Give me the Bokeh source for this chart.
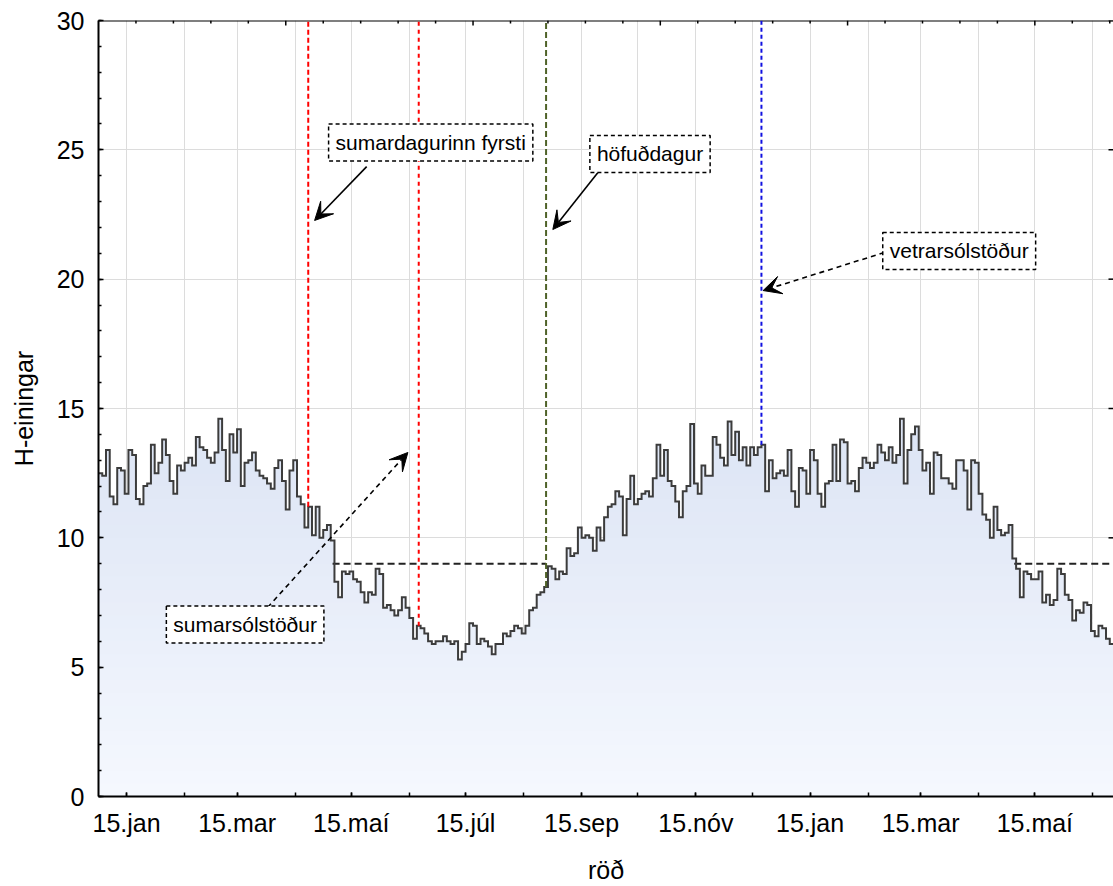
import numpy as np
from bokeh.plotting import figure
from bokeh.models import FixedTicker, Range1d, Label, Arrow, VeeHead
from bokeh.embed import file_html
from bokeh.resources import INLINE

# ---------------- data ----------------
day_first = 1
day_step = 2
h_values = [
    12.5, 12.4, 13.4, 11.6, 11.3, 12.7, 12.6, 11.7, 13.4, 13.2,
    11.5, 11.3, 12.0, 12.1, 13.6, 12.5, 12.9, 13.8, 13.2, 12.2,
    11.7, 12.8, 12.6, 12.9, 13.1, 12.8, 13.9, 13.5, 13.4, 13.1,
    12.9, 13.3, 14.6, 13.4, 12.2, 14.0, 13.3, 14.2, 12.0, 12.9,
    13.0, 13.3, 12.6, 12.4, 12.3, 12.1, 11.9, 12.7, 13.0, 12.2,
    11.1, 12.6, 13.0, 11.6, 11.3, 10.4, 11.2, 10.1, 11.2, 10.0,
    10.3, 10.5, 9.9, 8.3, 7.7, 8.7, 8.6, 8.7, 8.4, 8.3,
    7.9, 7.5, 7.9, 7.8, 8.8, 8.6, 7.3, 7.4, 7.2, 7.0,
    7.2, 7.7, 7.3, 6.9, 6.1, 6.6, 6.5, 6.3, 6.0, 5.9,
    6.0, 6.0, 6.2, 6.0, 5.9, 6.0, 5.3, 5.6, 5.9, 6.7,
    6.6, 5.9, 6.1, 6.0, 5.8, 5.5, 5.9, 5.9, 6.3, 6.2,
    6.4, 6.6, 6.5, 6.3, 6.6, 7.2, 7.3, 7.8, 7.9, 8.1,
    8.9, 8.8, 8.4, 8.7, 8.6, 9.6, 9.3, 9.4, 10.4, 10.0,
    10.1, 10.0, 9.5, 10.4, 9.9, 10.8, 11.2, 11.3, 11.8, 11.6,
    10.1, 11.5, 12.4, 11.3, 11.5, 11.7, 11.8, 11.6, 12.3, 13.6,
    12.4, 13.4, 12.2, 12.0, 11.4, 10.8, 11.8, 12.0, 14.4, 12.1,
    11.7, 12.8, 12.4, 12.4, 13.9, 13.6, 13.1, 12.8, 14.5, 13.2,
    14.1, 13.0, 13.5, 12.8, 13.5, 13.2, 13.5, 13.6, 11.8, 13.0,
    12.3, 12.5, 12.6, 12.4, 13.4, 11.8, 11.2, 12.7, 12.6, 11.7,
    13.4, 13.0, 11.7, 11.2, 12.1, 12.2, 13.6, 12.2, 13.8, 13.7,
    12.1, 12.2, 11.8, 12.7, 13.1, 12.9, 12.7, 12.9, 13.6, 13.3,
    13.0, 13.5, 12.9, 13.2, 14.6, 12.1, 13.4, 14.0, 14.3, 13.4,
    12.6, 12.9, 11.7, 13.3, 13.2, 12.3, 12.3, 12.1, 11.9, 13.0,
    13.0, 12.6, 11.1, 13.0, 12.9, 11.7, 10.9, 10.7, 10.0, 11.2,
    10.3, 10.1, 10.2, 10.5, 9.2, 8.8, 7.7, 8.7, 8.6, 8.4,
    8.4, 8.7, 7.5, 7.8, 7.4, 7.6, 8.8, 8.6, 7.8, 7.6,
    6.8, 7.2, 7.1, 7.5, 7.4, 6.4, 6.2, 6.6, 6.5, 6.1,
    5.9,
]

# x axis tick labels (day index of the 15th of every other month)
label_days = [15, 74, 135, 196, 258, 319, 380, 439, 500]
label_texts = ["15.jan", "15.mar", "15.maí", "15.júl", "15.sep",
               "15.nóv", "15.jan", "15.mar", "15.maí"]
month_days = [15, 46, 74, 105, 135, 166, 196, 227, 258, 288, 319, 349,
              380, 411, 439, 470, 500, 531]
index_major = [100, 200, 300, 400, 500]
index_minor = [20, 40, 60, 80, 120, 140, 160, 180, 220, 240, 260, 280, 320, 340,
               360, 380, 420, 440, 460, 480, 520, 540]
y_major = [0, 5, 10, 15, 20, 25, 30]
y_minor = list(range(0, 31))

# marker days: sumardagurinn fyrsti, sumarsólstöður, höfuðdagur, vetrarsólstöður
marker_days = [112, 171, 239, 354]
marker_colors = ["#ff0000", "#ff0000", "#4f6228", "#1010e0"]
marker_dashes = ["5 3", "4 4", "6 3", "4 3"]

threshold = 9.0
threshold_spans = [(125, 239), (489, 542)]

notes = ["sumardagurinn fyrsti", "höfuðdagur", "vetrarsólstöður", "sumarsólstöður"]
note_x = [177.4, 294.5, 459.6, 78.3]
note_y = [25.28, 24.84, 21.09, 6.65]
arrow_x0 = [143.2, 266.7, 419.6, 90.3]
arrow_y0 = [24.35, 24.12, 21.03, 7.31]
arrow_x1 = [115.4, 242.6, 354.9, 165.2]
arrow_y1 = [22.27, 21.92, 19.56, 13.30]
arrow_dashed = [False, False, True, True]

# ---------------- figure ----------------
FONT = "Liberation Sans"
W, H = 1113, 886
BL, BT, BB = 98, 20, 90
XMAX, YMAX = 542, 30
p = figure(width=W, height=H, x_range=Range1d(0, XMAX), y_range=Range1d(0, YMAX),
           output_backend="svg", toolbar_location=None,
           min_border_left=BL, min_border_right=0, min_border_top=BT, min_border_bottom=BB)
p.outline_line_color = None
p.background_fill_color = "white"
p.border_fill_color = "white"

# pixel -> data helpers for the hand-drawn top/right ticks
px_x = XMAX / (W - BL)
px_y = YMAX / (H - BT - BB)

# grids
p.xgrid.ticker = FixedTicker(ticks=month_days)
p.xgrid.grid_line_color = "#dcdcdc"
p.xgrid.grid_line_width = 1
p.ygrid.grid_line_color = "#dcdcdc"
p.ygrid.grid_line_width = 1

# bottom axis
xa = p.xaxis[0]
xa.ticker = FixedTicker(ticks=label_days, minor_ticks=month_days)
xa.major_label_overrides = {d: t for d, t in zip(label_days, label_texts)}
xa.major_tick_in = 4
xa.major_tick_out = 0
xa.minor_tick_in = 4
xa.minor_tick_out = 0
xa.axis_line_width = 2
xa.major_tick_line_width = 1.5
xa.minor_tick_line_width = 1.5
xa.major_label_text_font = FONT
xa.major_label_text_font_size = "25px"
xa.major_label_text_color = "black"
xa.major_label_standoff = 12
xa.axis_label = "röð"
xa.axis_label_text_font = FONT
xa.axis_label_text_font_size = "25px"
xa.axis_label_text_font_style = "normal"
xa.axis_label_text_color = "black"
xa.axis_label_standoff = 16

# left axis
ya = p.yaxis[0]
ya.ticker = FixedTicker(ticks=y_major, minor_ticks=y_minor)
ya.major_tick_in = 5
ya.major_tick_out = 0
ya.minor_tick_in = 3
ya.minor_tick_out = 0
ya.axis_line_width = 2
ya.major_tick_line_width = 1.5
ya.minor_tick_line_width = 1.5
ya.major_label_text_font = FONT
ya.major_label_text_font_size = "25px"
ya.major_label_text_color = "black"
ya.major_label_standoff = 14
ya.axis_label = "H-einingar"
ya.axis_label_text_font = FONT
ya.axis_label_text_font_size = "25px"
ya.axis_label_text_font_style = "normal"
ya.axis_label_text_color = "black"
ya.axis_label_standoff = 16

# top frame line with index ticks (drawn inside the frame), right-side ticks
p.line([0, XMAX], [YMAX, YMAX], line_color="black", line_width=2)
p.segment(x0=index_major, y0=[YMAX] * len(index_major), x1=index_major,
          y1=[YMAX - 5 * px_y] * len(index_major), line_color="black", line_width=1.5)
p.segment(x0=index_minor, y0=[YMAX] * len(index_minor), x1=index_minor,
          y1=[YMAX - 3 * px_y] * len(index_minor), line_color="black", line_width=1.5)
p.segment(x0=[XMAX] * len(y_major), y0=y_major, x1=[XMAX - 5 * px_x] * len(y_major),
          y1=y_major, line_color="black", line_width=1.5)

# ---------------- series ----------------
vals = np.array(h_values)
days = day_first + day_step * np.arange(len(vals))
edges = np.append(days - day_step / 2, days[-1] + day_step / 2)
xx = np.repeat(edges, 2)[1:-1]
yy = np.repeat(vals, 2)

# vertical gradient fill under the step line
c_top = np.array([221, 229, 245])
c_bot = np.array([245, 248, 254])
band = 0.5
nb = 30
for k in range(nb, 0, -1):
    b = k * band
    t = min(1.0, (b - band / 2) / 14.0)
    c = (c_bot + (c_top - c_bot) * t).round().astype(int)
    col = "#%02x%02x%02x" % tuple(c)
    p.varea(x=xx, y1=0, y2=np.minimum(yy, b), fill_color=col)

# threshold dashed lines
for a, b in threshold_spans:
    p.line([a, b], [threshold, threshold], line_color="#222222", line_width=2, line_dash="7 4")

p.line(xx, yy, line_color="#3c3c3c", line_width=2, line_join="miter")

# vertical marker lines, from the series up to the top
for d, c, ds in zip(marker_days, marker_colors, marker_dashes):
    idx = np.searchsorted(edges, d, side="right") - 1
    idx = int(np.clip(idx, 0, len(vals) - 1))
    p.segment(x0=[d], y0=[vals[idx]], x1=[d], y1=[YMAX], line_color=c,
              line_width=2, line_dash=ds)

# arrows
for x0, y0, x1, y1, dashed in zip(arrow_x0, arrow_y0, arrow_x1, arrow_y1, arrow_dashed):
    p.add_layout(Arrow(x_start=x0, y_start=y0, x_end=x1, y_end=y1,
                       line_color="black", line_width=1.6,
                       line_dash="5 4" if dashed else "solid",
                       end=VeeHead(size=18, fill_color="black", line_color="black",
                                   line_width=1)))

# labelled boxes
for txt, x, y in zip(notes, note_x, note_y):
    p.add_layout(Label(x=x, y=y, text=txt, text_align="center", text_baseline="middle",
                       text_font=FONT, text_font_size="21px", text_color="black",
                       background_fill_color="white", border_line_color="black",
                       border_line_dash="4 3", border_line_width=1.5, padding=7))

open("out.html", "w").write(file_html(p, INLINE))
